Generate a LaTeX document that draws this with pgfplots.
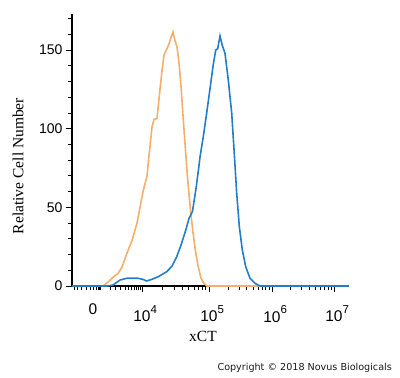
\documentclass[border=0pt]{standalone}
\usepackage{fontspec}
\usepackage{pgfplots}
\pgfplotsset{compat=1.18}
\setmainfont{Liberation Serif}
\newfontfamily\arial{Liberation Sans}
\newfontfamily\verd{DejaVu Sans}
\definecolor{corange}{RGB}{244,176,106}
\definecolor{cblue}{RGB}{36,125,200}
\newcommand\tp[1]{10\rlap{\raisebox{8.5pt}{\fontsize{11.5}{11.5}\selectfont #1}}}
\begin{document}
\begin{tikzpicture}
\useasboundingbox (0,0) rectangle (400pt,378pt);
\begin{axis}[
  at={(72pt,92pt)}, anchor=south west,
  scale only axis, width=277pt, height=272pt,
  xmin=72, xmax=349, ymin=0, ymax=173,
  clip=false,
  axis x line*=bottom, axis y line*=left,
  axis line style={line width=1.1pt, black},
  tick align=outside,
  major tick length=6pt, minor tick length=4pt,
  every tick/.style={black, line width=0.9pt},
  xtick={142,209,272,334},
  xticklabels={\tp{4},\tp{5},\tp{6},\tp{7}},
  extra x ticks={93},
  extra x tick labels={0},
  extra x tick style={major tick length=4pt},
  minor xtick={74,77,81,86,90,96,98,99,100,110,115,120,125,128,131,134,136,138,140,
    162.2,174,182.3,188.8,194.1,198.6,202.5,205.9,
    228,239.1,246.9,253,258,262.2,265.9,269.1,
    290.7,301.6,309.3,315.3,320.2,324.4,328,331.2},
  xticklabel style={font=\arial\fontsize{15.5}{15.5}\selectfont, yshift=-10pt},
  ytick={0,50,100,150},
  yticklabels={0,50,100,150},
  minor ytick={10,20,30,40,60,70,80,90,110,120,130,140,160,170},
  yticklabel style={font=\arial\fontsize{14}{14}\selectfont},
  xlabel={xCT},
  ylabel={Relative Cell Number},
  label style={font=\fontsize{15.5}{16}\selectfont},
  xlabel style={at={(axis description cs:0.473,-0.184)}, anchor=center},
  ylabel style={at={(axis description cs:-0.195,0.441)}, anchor=center},
]
\addplot[corange, line width=1.6pt] coordinates {
(72,0) (103,0) (106,1.5) (109,3) (113,5.5) (118,8) (122,12) (127,21) (132,29)
(137,40) (140,50) (143,60) (147,70) (149,83) (152,101) (154,106) (157,106.5)
(159,119) (162,137) (164,147) (167,151) (169,154) (171,158) (173,161.5)
(175,156) (177,152) (179,142) (181,127) (184.5,95) (187.5,69) (190.5,48)
(193,34) (195.5,22) (198,13) (201,5) (204,1.5) (207,0) (349,0)
};
\addplot[cblue, line width=1.6pt] coordinates {
(72,0) (107,0) (113,0.6) (120,3.8) (126.7,4.9) (138,4.9) (143,4.2) (146.7,3.2)
(151.7,4.2) (158.3,5.9) (166.7,9.1) (171.7,12.3) (176.7,18.6) (181,26) (186,36)
(189,43) (192.5,47.5) (196,62) (198.5,74) (200,82) (203.3,95) (206.7,110)
(210,125.5) (213.3,141) (215.7,150) (217.7,151) (220,159) (222.3,153) (225,148)
(228.3,131) (231.7,110) (234.3,84) (236.7,59) (239.3,38) (242.3,23) (245.7,12.3)
(250,4.9) (255,1.7) (260,0) (349,0)
};
\end{axis}
\node[anchor=east, font=\verd\fontsize{9.6}{10}\selectfont, text=black!90, inner sep=0pt] at (392pt,10pt) {Copyright © 2018 Novus Biologicals};
\end{tikzpicture}
\end{document}
